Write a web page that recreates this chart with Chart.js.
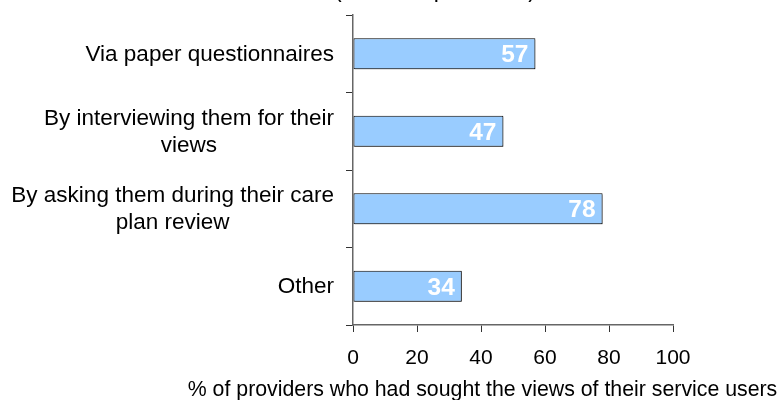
<!DOCTYPE html>
<html>
<head>
<meta charset="utf-8">
<script src="https://cdn.jsdelivr.net/npm/chart.js@4"></script>
<style>
  html, body { margin: 0; padding: 0; background: #fff; overflow: hidden; }
  #wrap { width: 782px; height: 400px; position: relative; }
</style>
</head>
<body>
<div id="wrap"><canvas id="chart" width="782" height="400"></canvas></div>
<script>
const categories = [
  ["Via paper questionnaires"],
  ["By interviewing them for their", "views"],
  ["By asking them during their care", "plan review"],
  ["Other"]
];
const values = [57, 47, 78, 34];
const xTicks = [0, 20, 40, 60, 80, 100];
const topTitle = "(base: all providers)";
const xTitle = "% of providers who had sought the views of their service users";

const FONT = "'Liberation Sans', Arial, sans-serif";

// category labels: block right-aligned, lines centred inside block
const yLabels = {
  id: "yLabels",
  afterDraw(chart) {
    const ctx = chart.ctx;
    const y = chart.scales.y;
    ctx.save();
    ctx.font = "22.5px " + FONT;
    ctx.fillStyle = "#000";
    ctx.textAlign = "center";
    ctx.textBaseline = "middle";
    const lh = 27;
    categories.forEach((lines, i) => {
      const cy = y.getPixelForValue(i);
      const w = Math.max(...lines.map(l => ctx.measureText(l).width));
      const cx = 334 - w / 2;
      const top = cy - (lines.length - 1) * lh / 2;
      lines.forEach((l, j) => ctx.fillText(l, cx, top + j * lh + 1));
    });
    ctx.restore();
  }
};

// value labels inside bar ends, axis title, clipped title at top
const extras = {
  id: "extras",
  beforeDatasetsDraw(chart) {
    const ctx = chart.ctx;
    ctx.save();
    ctx.shadowColor = "rgba(0,0,0,0.28)";
    ctx.shadowOffsetX = 1.5;
    ctx.shadowOffsetY = 1.5;
    ctx.shadowBlur = 0;
  },
  afterDatasetsDraw(chart) {
    const ctx = chart.ctx;
    ctx.restore();
    const meta = chart.getDatasetMeta(0);
    ctx.save();
    ctx.font = "bold 24.5px " + FONT;
    ctx.fillStyle = "#fff";
    ctx.textAlign = "right";
    ctx.textBaseline = "middle";
    meta.data.forEach((bar, i) => {
      ctx.fillText(String(values[i]), bar.x - 7, bar.y + 1.5);
    });
    ctx.restore();
  },
  afterDraw(chart) {
    const ctx = chart.ctx;
    ctx.save();
    ctx.fillStyle = "#000";
    ctx.textAlign = "center";
    ctx.font = "21.3px " + FONT;
    ctx.textBaseline = "middle";
    ctx.fillText(xTitle, 482.5, 390);
    ctx.font = "23px " + FONT;
    ctx.textBaseline = "alphabetic";
    ctx.fillText(topTitle, 435, -3.5);
    ctx.restore();
  }
};

new Chart(document.getElementById("chart").getContext("2d"), {
  type: "bar",
  data: {
    labels: categories,
    datasets: [{
      data: values,
      backgroundColor: "#99CCFF",
      borderColor: "#000",
      borderWidth: 1,
      borderSkipped: false,
      barPercentage: 0.4,
      categoryPercentage: 1
    }]
  },
  options: {
    indexAxis: "y",
    responsive: false,
    animation: false,
    layout: { padding: { top: 15, right: 109, left: 0, bottom: 0 } },
    plugins: {
      legend: { display: false },
      tooltip: { enabled: false }
    },
    scales: {
      x: {
        min: 0,
        max: 100,
        afterBuildTicks: s => { s.ticks = xTicks.map(v => ({ value: v })); },
        afterFit: s => { s.height = 75; },
        grid: { drawOnChartArea: false, tickLength: 7, color: "#333" },
        border: { color: "#666", width: 1.5 },
        ticks: {
          color: "#000",
          padding: 14,
          font: { family: FONT, size: 21 },
          maxRotation: 0
        }
      },
      y: {
        afterFit: s => { s.width = 353; },
        grid: { drawOnChartArea: false, tickLength: 7, color: "#333", offset: true },
        border: { color: "#666", width: 1.5 },
        ticks: { display: false }
      }
    }
  },
  plugins: [yLabels, extras]
});
</script>
</body>
</html>
